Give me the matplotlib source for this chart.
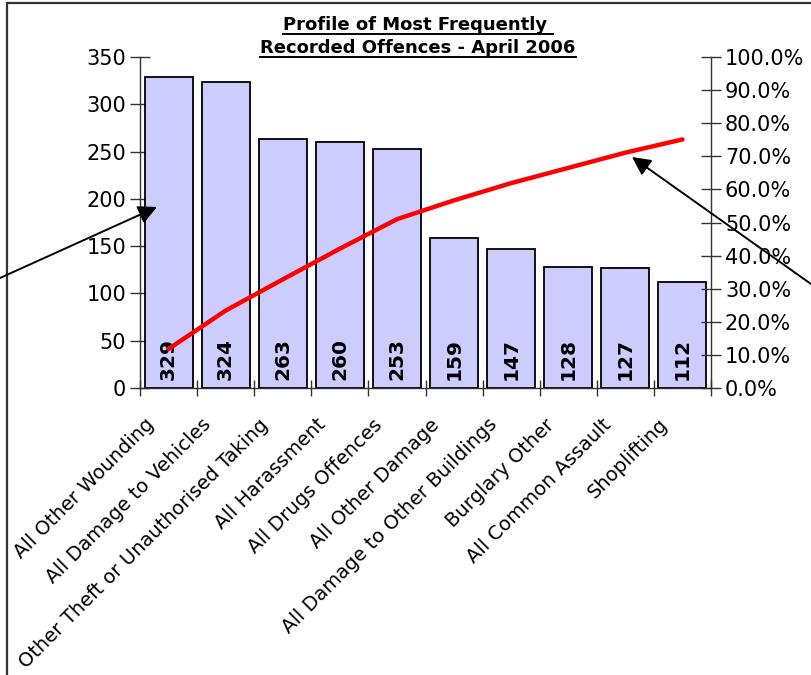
import matplotlib
matplotlib.use("Agg")
import matplotlib.pyplot as plt
from matplotlib.patches import Rectangle, FancyArrowPatch
from matplotlib.lines import Line2D
from matplotlib.ticker import FuncFormatter, MultipleLocator, FixedLocator
from matplotlib.transforms import ScaledTranslation, blended_transform_factory
import numpy as np

categories = ["All Other Wounding", "All Damage to Vehicles",
              "Other Theft or Unauthorised Taking", "All Harassment",
              "All Drugs Offences", "All Other Damage",
              "All Damage to Other Buildings", "Burglary Other",
              "All Common Assault", "Shoplifting"]
counts = [329, 324, 263, 260, 253, 159, 147, 128, 127, 112]
cum_pct = [11.8, 23.4, 32.8, 42.1, 51.0, 56.7, 61.9, 66.5, 71.1, 75.1]
title_lines = ["Profile of Most Frequently ", "Recorded Offences - April 2006"]

plt.rcParams['font.family'] = ['DejaVu Sans']

W, H = 811, 675
fig = plt.figure(figsize=(W / 100, H / 100), dpi=100)
fig.patch.set_facecolor("white")

L, R, B, T = 140, 711, 388, 57
ax = fig.add_axes([L / W, (H - B) / H, (R - L) / W, (B - T) / H])
x = np.arange(len(categories))
ax.bar(x, counts, width=0.84, color="#CCCCFF", edgecolor="black", linewidth=1.3, zorder=2)
ax.set_xlim(-0.5, len(categories) - 0.5)
ax.set_ylim(0, 350)
ax.yaxis.set_major_locator(MultipleLocator(50))
for s in ["top", "right"]:
    ax.spines[s].set_visible(False)
for s in ["left", "bottom"]:
    ax.spines[s].set_color("#333333")
    ax.spines[s].set_linewidth(1.0)
ax.tick_params(axis="y", direction="inout", length=14, width=1.0, labelsize=15, pad=3, color="#333333")
ax.set_xticks(x)
ax.set_xticklabels([])
ax.tick_params(axis="x", which="major", length=0)
ax.xaxis.set_minor_locator(FixedLocator(np.arange(-0.5, len(categories), 1.0)))
ax.tick_params(axis="x", which="minor", direction="inout", length=12, width=1.0, color="#333333")

# category labels, rotated
lab_tr = blended_transform_factory(ax.transData, ax.transAxes) + \
    ScaledTranslation(-24 / 100, -27 / 100, fig.dpi_scale_trans)
for xi, c in zip(x, categories):
    ax.text(xi, 0, c, transform=lab_tr, rotation=45, ha="right", va="top",
            rotation_mode="anchor", fontsize=14, clip_on=False)

for xi, v in zip(x, counts):
    ax.text(xi, 8, str(v), rotation=90, ha="center", va="bottom", fontsize=14.5,
            fontweight="bold", zorder=5)

ax2 = ax.twinx()
ax2.set_ylim(0, 100)
ax2.plot(x, cum_pct, color="#FF0000", linewidth=3.2, zorder=4, solid_capstyle="round")
ax2.yaxis.set_major_locator(MultipleLocator(10))
ax2.yaxis.set_major_formatter(FuncFormatter(lambda v, p: f"{v:.1f}%"))
for s in ["top", "left", "bottom"]:
    ax2.spines[s].set_visible(False)
ax2.spines["right"].set_color("#333333")
ax2.spines["right"].set_linewidth(1.0)
ax2.tick_params(axis="y", direction="inout", length=14, width=1.0, labelsize=15, pad=3, color="#333333")

# Title with underline
fig.canvas.draw()
renderer = fig.canvas.get_renderer()
title_y = [H - 30, H - 53]
for line, yb in zip(title_lines, title_y):
    t = fig.text(418 / W, yb / H, line, ha="center", va="baseline", fontsize=13,
                 fontweight="bold")
    bb = t.get_window_extent(renderer=renderer)
    uy = (yb - 3.5) / H
    fig.add_artist(Line2D([bb.x0 / W, bb.x1 / W], [uy, uy], transform=fig.transFigure,
                          color="black", linewidth=1.4))

# Outer border
fig.add_artist(Rectangle((7 / W, -20 / H), (W + 20) / W, (H - 3 + 20) / H,
                         transform=fig.transFigure, fill=False, edgecolor="#333333",
                         linewidth=1.6))

# Arrows
fig.add_artist(FancyArrowPatch((0, H - 278), (157, H - 207),
               transform=None, arrowstyle="-|>", mutation_scale=28, linewidth=1.4,
               color="black", shrinkA=0, shrinkB=0, zorder=10))
fig.add_artist(FancyArrowPatch((W, H - 284), (632, H - 157),
               transform=None, arrowstyle="-|>", mutation_scale=28, linewidth=1.4,
               color="black", shrinkA=0, shrinkB=0, zorder=10))

fig.savefig("out.png", dpi=100)
